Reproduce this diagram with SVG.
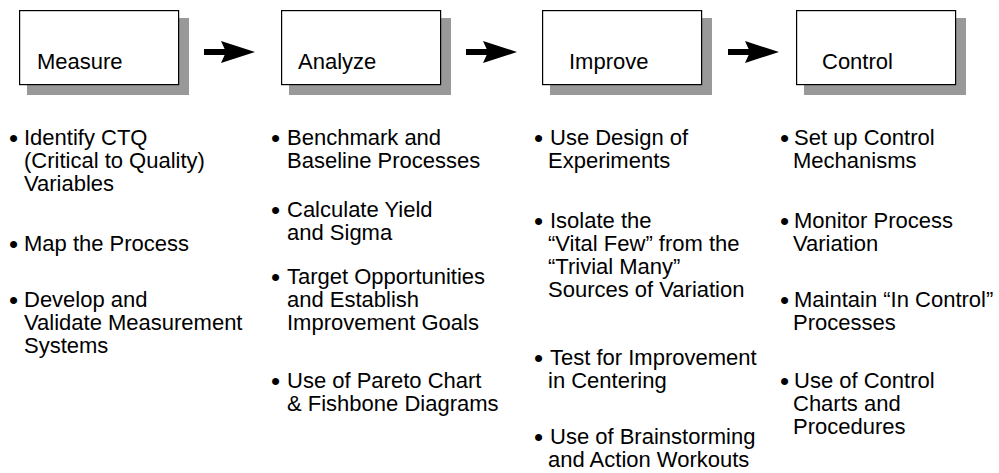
<svg xmlns="http://www.w3.org/2000/svg" width="999" height="473" viewBox="0 0 999 473">
  <style>
    .shadow { fill: #999999; }
    .box { fill: #ffffff; stroke: #000000; stroke-width: 1.2; }
    .label { font-family: "Liberation Sans", Arial, sans-serif; font-size: 22px; fill: #000000; }
    .item { font-family: "Liberation Sans", Arial, sans-serif; font-size: 22px; fill: #000000; }
    .dot { font-family: "Liberation Sans", Arial, sans-serif; font-size: 26px; fill: #000000; }
    .arrow { fill: #000000; }
  </style>
  <defs>
    <!-- thick block arrow, drawn from its tail at (0,0) -->
    <g id="blockArrow">
      <rect x="0" y="-3" width="24" height="6" class="arrow"/>
      <polygon points="17,-11 51,0 17,11 22,0" class="arrow"/>
    </g>
  </defs>

  <rect width="999" height="473" fill="#ffffff"/>

  <!-- flow arrows between the phases -->
  <g id="connectors">
    <use href="#blockArrow" x="204" y="52"/>
    <use href="#blockArrow" x="466" y="52"/>
    <use href="#blockArrow" x="728" y="52"/>
  </g>

  <g id="measure">
    <rect class="shadow" x="27" y="18" width="162" height="77"/>
    <rect class="box" x="19.6" y="10.6" width="159" height="74"/>
    <text class="label" x="37" y="69">Measure</text>
    <text class="dot" x="9" y="147">•</text>
    <text class="item"><tspan x="24" y="145">Identify CTQ</tspan><tspan x="24" y="168">(Critical to Quality)</tspan><tspan x="24" y="191">Variables</tspan></text>
    <text class="dot" x="9" y="253">•</text>
    <text class="item" x="24" y="251">Map the Process</text>
    <text class="dot" x="9" y="309">•</text>
    <text class="item"><tspan x="24" y="307">Develop and</tspan><tspan x="24" y="330">Validate Measurement</tspan><tspan x="24" y="353">Systems</tspan></text>
  </g>

  <g id="analyze">
    <rect class="shadow" x="289" y="18" width="162" height="77"/>
    <rect class="box" x="281.6" y="10.6" width="159" height="74"/>
    <text class="label" x="298" y="69">Analyze</text>
    <text class="dot" x="271" y="147">•</text>
    <text class="item"><tspan x="287" y="145">Benchmark and</tspan><tspan x="287" y="168">Baseline Processes</tspan></text>
    <text class="dot" x="271" y="219">•</text>
    <text class="item"><tspan x="287" y="217">Calculate Yield</tspan><tspan x="287" y="240">and Sigma</tspan></text>
    <text class="dot" x="271" y="286">•</text>
    <text class="item"><tspan x="287" y="284">Target Opportunities</tspan><tspan x="287" y="307">and Establish</tspan><tspan x="287" y="330">Improvement Goals</tspan></text>
    <text class="dot" x="271" y="390">•</text>
    <text class="item"><tspan x="287" y="388">Use of Pareto Chart</tspan><tspan x="287" y="411">&amp; Fishbone Diagrams</tspan></text>
  </g>

  <g id="improve">
    <rect class="shadow" x="550" y="18" width="162" height="77"/>
    <rect class="box" x="542.6" y="10.6" width="159" height="74"/>
    <text class="label" x="569" y="69">Improve</text>
    <text class="dot" x="534" y="147">•</text>
    <text class="item"><tspan x="550" y="145">Use Design of</tspan><tspan x="548" y="168">Experiments</tspan></text>
    <text class="dot" x="534" y="230">•</text>
    <text class="item"><tspan x="550" y="228">Isolate the</tspan><tspan x="548" y="251">“Vital Few” from the</tspan><tspan x="548" y="274">“Trivial Many”</tspan><tspan x="548" y="297">Sources of Variation</tspan></text>
    <text class="dot" x="534" y="367">•</text>
    <text class="item"><tspan x="550" y="365">Test for Improvement</tspan><tspan x="548" y="388">in Centering</tspan></text>
    <text class="dot" x="534" y="446">•</text>
    <text class="item"><tspan x="550" y="444">Use of Brainstorming</tspan><tspan x="548" y="467">and Action Workouts</tspan></text>
  </g>

  <g id="control">
    <rect class="shadow" x="804" y="18" width="162" height="77"/>
    <rect class="box" x="796.6" y="10.6" width="159" height="74"/>
    <text class="label" x="822" y="69">Control</text>
    <text class="dot" x="780" y="147">•</text>
    <text class="item"><tspan x="794" y="145">Set up Control</tspan><tspan x="793" y="168">Mechanisms</tspan></text>
    <text class="dot" x="780" y="230">•</text>
    <text class="item"><tspan x="794" y="228">Monitor Process</tspan><tspan x="793" y="251">Variation</tspan></text>
    <text class="dot" x="780" y="309">•</text>
    <text class="item"><tspan x="794" y="307">Maintain “In Control”</tspan><tspan x="793" y="330">Processes</tspan></text>
    <text class="dot" x="780" y="390">•</text>
    <text class="item"><tspan x="794" y="388">Use of Control</tspan><tspan x="793" y="411">Charts and</tspan><tspan x="793" y="434">Procedures</tspan></text>
  </g>
</svg>
